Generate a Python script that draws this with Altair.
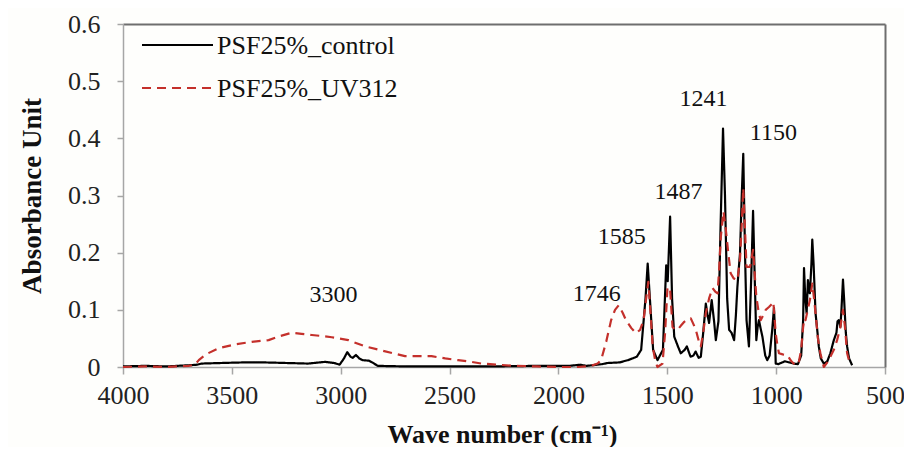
import altair as alt
import pandas as pd

# ---- data ----
control_wn = [4000, 3900, 3800, 3700, 3660, 3640, 3550, 3450, 3350, 3250, 3150, 3071, 3030, 3005,
              2985, 2970, 2955, 2945, 2930, 2915, 2900, 2870, 2855, 2830, 2700, 2500, 2300, 2100,
              1950, 1900, 1870, 1800, 1774, 1720, 1680, 1640, 1620, 1600, 1590, 1580, 1565, 1545,
              1520, 1505, 1498, 1487, 1478, 1468, 1450, 1438, 1420, 1410, 1400, 1393, 1380, 1370,
              1356, 1346, 1335, 1323, 1315, 1308, 1296, 1285, 1277, 1265, 1255, 1244, 1235, 1225,
              1216, 1205, 1193, 1185, 1178, 1170, 1166, 1158, 1151, 1143, 1136, 1125, 1115, 1106,
              1098, 1091, 1085, 1079, 1070, 1063, 1050, 1041, 1030, 1018, 1010, 1006, 1002, 990,
              960, 940, 920, 900, 885, 876, 872, 866, 860, 854, 848, 845, 838, 834, 828, 819, 810,
              804, 795, 781, 765, 751, 740, 735, 723, 718, 712, 705, 700, 693, 688, 680, 674, 665, 651]
control_abs = [0.001, 0.002, 0.001, 0.003, 0.004, 0.006, 0.007, 0.008, 0.008, 0.007, 0.006, 0.009, 0.007, 0.004,
               0.015, 0.026, 0.018, 0.016, 0.021, 0.015, 0.012, 0.011, 0.008, 0.002, 0.001, 0.001, 0.001, 0.002,
               0.002, 0.004, 0.002, 0.005, 0.007, 0.008, 0.012, 0.018, 0.030, 0.120, 0.181, 0.120, 0.030, 0.012,
               0.030, 0.178, 0.150, 0.263, 0.120, 0.053, 0.035, 0.024, 0.030, 0.036, 0.025, 0.018, 0.020, 0.027,
               0.016, 0.018, 0.060, 0.111, 0.090, 0.077, 0.117, 0.080, 0.047, 0.080, 0.250, 0.417, 0.300, 0.120,
               0.065, 0.060, 0.047, 0.090, 0.140, 0.180, 0.199, 0.300, 0.373, 0.200, 0.082, 0.036, 0.150, 0.273,
               0.150, 0.047, 0.070, 0.082, 0.065, 0.053, 0.020, 0.012, 0.020, 0.065, 0.103, 0.070, 0.006, 0.005,
               0.010, 0.008, 0.006, 0.005, 0.020, 0.082, 0.173, 0.120, 0.094, 0.152, 0.130, 0.129, 0.180, 0.223, 0.180, 0.094, 0.060,
               0.036, 0.015, 0.006, 0.010, 0.024, 0.040, 0.047, 0.060, 0.080, 0.082, 0.070, 0.100, 0.153, 0.120, 0.060, 0.036, 0.015, 0.003]

uv_wn = [4000, 3900, 3800, 3700, 3670, 3652, 3620, 3560, 3480, 3408, 3331, 3280, 3224, 3180, 3133, 3080,
         3041, 2965, 2888, 2812, 2760, 2705, 2640, 2583, 2520, 2461, 2400, 2354, 2280, 2201, 2100, 2000,
         1911, 1850, 1820, 1804, 1780, 1758, 1740, 1723, 1705, 1690, 1665, 1644, 1625, 1609, 1597, 1587,
         1578, 1567, 1555, 1545, 1522, 1510, 1499, 1487, 1476, 1465, 1453, 1438, 1422, 1405, 1392, 1380,
         1369, 1355, 1346, 1335, 1323, 1308, 1292, 1280, 1269, 1262, 1254, 1242, 1231, 1220, 1209, 1195,
         1178, 1166, 1158, 1151, 1143, 1136, 1120, 1106, 1098, 1091, 1080, 1071, 1060, 1048, 1033, 1020,
         1013, 1008, 1002, 995, 987, 970, 949, 930, 911, 895, 885, 876, 870, 865, 855, 845, 834, 826, 819,
         808, 797, 781, 765, 751, 735, 720, 705, 693, 684, 674, 659]
uv_abs = [0.000, 0.001, 0.000, 0.002, 0.004, 0.012, 0.022, 0.033, 0.040, 0.044, 0.047, 0.054, 0.060, 0.058, 0.056, 0.054,
          0.052, 0.047, 0.036, 0.029, 0.024, 0.019, 0.019, 0.019, 0.015, 0.012, 0.009, 0.006, 0.004, 0.002, 0.001, 0.000,
          0.000, 0.002, 0.006, 0.012, 0.045, 0.082, 0.100, 0.108, 0.095, 0.082, 0.068, 0.059, 0.065, 0.082, 0.120, 0.149,
          0.100, 0.036, 0.010, 0.000, 0.006, 0.060, 0.140, 0.135, 0.070, 0.066, 0.065, 0.072, 0.079, 0.084, 0.085, 0.075,
          0.065, 0.045, 0.036, 0.060, 0.094, 0.120, 0.138, 0.132, 0.129, 0.170, 0.228, 0.272, 0.240, 0.200, 0.164, 0.155,
          0.152, 0.188, 0.250, 0.313, 0.240, 0.175, 0.175, 0.205, 0.160, 0.123, 0.095, 0.082, 0.090, 0.100, 0.105, 0.110,
          0.114, 0.090, 0.059, 0.040, 0.024, 0.022, 0.021, 0.010, 0.003, 0.010, 0.030, 0.070, 0.085, 0.082, 0.100, 0.117, 0.146, 0.120, 0.094,
          0.050, 0.024, 0.000, 0.008, 0.018, 0.030, 0.047, 0.070, 0.100, 0.070, 0.024, 0.003]

series_names = ["PSF25%_control", "PSF25%_UV312"]
series_colors = ["#000000", "#C4302B"]
series_dash = [[1, 0], [9, 6]]

label_text = ["3300", "1746", "1585", "1487", "1241", "1150"]
label_wn = [3033, 1824, 1709, 1448, 1334, 1013]
label_abs = [0.126, 0.128, 0.227, 0.306, 0.469, 0.410]

x_ticks = [4000, 3500, 3000, 2500, 2000, 1500, 1000, 500]
y_ticks = [0, 0.1, 0.2, 0.3, 0.4, 0.5, 0.6]

# ---- tables ----
df = pd.concat([
    pd.DataFrame({"wn": control_wn, "abs": control_abs, "series": series_names[0], "ord": range(len(control_wn))}),
    pd.DataFrame({"wn": uv_wn, "abs": uv_abs, "series": series_names[1], "ord": range(len(uv_wn))}),
])
labels = pd.DataFrame({"wn": label_wn, "abs": label_abs, "text": label_text})
legend_df = pd.DataFrame({"series": series_names})

FONT = "Liberation Serif"
AX = "#a6a6a6"
FRAME = "#6e6e6e"

xscale = alt.Scale(domain=[500, 4000], reverse=True, nice=False, zero=False)
yscale = alt.Scale(domain=[0, 0.6], nice=False)
cscale = alt.Scale(domain=series_names, range=series_colors)
dscale = alt.Scale(domain=series_names, range=series_dash)

lines = alt.Chart(df).mark_line(strokeWidth=2.2, strokeJoin="round").encode(
    x=alt.X("wn:Q", scale=xscale,
            axis=alt.Axis(values=x_ticks, grid=False, title="Wave number (cm⁻¹)", format="d",
                          labelFont=FONT, labelFontSize=26, labelColor="#222",
                          labelPadding=8, tickSize=7, tickColor=AX, domainColor=AX,
                          domainWidth=1.5, tickWidth=1.5,
                          titleFont=FONT, titleFontSize=26, titleFontWeight="bold",
                          titleColor="#111", titleX=379, titleY=75, titleBaseline="alphabetic",
                          labelFlush=False)),
    y=alt.Y("abs:Q", scale=yscale,
            axis=alt.Axis(values=y_ticks, grid=False, title="Absorbance Unit",
                          labelExpr="datum.value == 0 ? '0' : format(datum.value, '.1f')",
                          labelFont=FONT, labelFontSize=26, labelColor="#222",
                          labelPadding=17, tickSize=6, tickColor=AX, domainColor=AX,
                          domainWidth=1.5, tickWidth=1.5,
                          titleFont=FONT, titleFontSize=27, titleFontWeight="bold",
                          titleColor="#111", titleX=-91, titleY=171.5, titleAngle=-90,
                          titleAlign="center", titleBaseline="middle", labelFlush=False)),
    color=alt.Color("series:N", scale=cscale, legend=None),
    strokeDash=alt.StrokeDash("series:N", scale=dscale, legend=None),
    detail="series:N",
    order="ord:Q",
)

ann = alt.Chart(labels).mark_text(font=FONT, fontSize=24, color="#111",
                                  align="center", baseline="middle").encode(
    x=alt.X("wn:Q", scale=xscale,
            axis=alt.Axis(orient="top", labels=False, ticks=False, title=None,
                          grid=False, domainColor=FRAME, domainWidth=2)),
    y=alt.Y("abs:Q", scale=yscale,
            axis=alt.Axis(orient="right", labels=False, ticks=False, title=None,
                          grid=False, domainColor=FRAME, domainWidth=2)),
    text="text:N",
)

# legend drawn as keys inside the plot (upper left)
legend_y = alt.Y("series:N", scale=alt.Scale(type="point", domain=series_names,
                                             range=[21, 64], padding=0), axis=None)
leg_keys = alt.Chart(legend_df).mark_rule(strokeWidth=2.2).encode(
    x=alt.value(19), x2=alt.value(90), y=legend_y,
    color=alt.Color("series:N", scale=cscale, legend=None),
    strokeDash=alt.StrokeDash("series:N", scale=dscale, legend=None),
)
leg_text = alt.Chart(legend_df).mark_text(font=FONT, fontSize=26, color="#111",
                                          align="left", baseline="middle", dy=1).encode(
    x=alt.value(94), y=legend_y, text="series:N",
)

chart = alt.layer(lines, ann, leg_keys, leg_text).resolve_axis(
    x="independent", y="independent"
).resolve_scale(y="independent").properties(
    width=762, height=343, autosize="none",
    padding={"left": 115, "top": 16, "right": 19, "bottom": 80},
    background="#fefefc",
).configure_view(stroke=None)

chart.save("out.html", embed_options={"renderer": "svg", "actions": False})
